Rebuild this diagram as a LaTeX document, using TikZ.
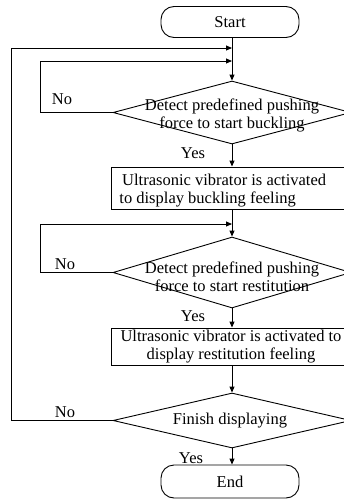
\documentclass[tikz,border=0pt]{standalone}
\usepackage{fontspec}
\setmainfont{Liberation Serif}
\usetikzlibrary{shapes.geometric,arrows.meta}
\begin{document}
\begin{tikzpicture}[x=1pt, y=-1pt, >={Triangle[length=6pt,width=5pt]},
  line width=0.9pt,
  font=\fontsize{16.5}{18}\selectfont,
  term/.style={draw, rounded corners=13pt, minimum width=138pt, minimum height=31pt, inner sep=0pt},
  decision/.style={draw, diamond, inner sep=0pt, minimum width=238pt},
  process/.style={draw, rectangle, minimum width=242pt, inner sep=0pt},
  lbl/.style={inner sep=0pt}]
  \useasboundingbox (0,0) rectangle (344,501);
  \clip (0,0) rectangle (344,501);
  \node[term] (start) at (230,22) {\raisebox{-5pt}{Start}};
  \node[decision, minimum height=63pt] (d1) at (232,112.5) {};
  \node[align=center, lbl] (t1) at (232,115) {Detect predefined pushing\\force to start buckling};
  \node[process, minimum height=42pt] (r1) at (232,188) {};
  \node[align=left, lbl, anchor=west] (t2) at (119,191) {\,Ultrasonic vibrator is activated\\to display buckling feeling};
  \node[decision, minimum height=71pt] (d2) at (232,272.5) {};
  \node[align=center, lbl] (t3) at (232,277) {Detect predefined pushing\\force to start restitution};
  \node[process, minimum height=37pt] (r2) at (232,346.5) {};
  \node[align=center, lbl] (t4) at (231,347) {Ultrasonic vibrator is activated to\\display restitution feeling};
  \node[decision, minimum height=55pt] (d3) at (232,420.5) {};
  \node[lbl] (t5) at (230,421) {Finish displaying};
  \node[term, minimum height=33pt] (end) at (230,481.5) {\raisebox{-5pt}{End}};
  \coordinate (j0) at (232,48);
  \coordinate (j1) at (232,61);
  \coordinate (j2) at (232,224);
  \draw[->] (start.south -| d1.north) -- (d1.north);
  \draw[->] (d1.south) -- (r1.north);
  \draw[->] (r1.south) -- (d2.north);
  \draw[->] (d2.south) -- (r2.north);
  \draw[->] (r2.south) -- (d3.north);
  \draw[->] (d3.south) -- (end.north -| d3.south);
  \draw[->] (d1.west) -- ++(-72,0) |- (j1);
  \draw[->] (d2.west) -- ++(-72,0) |- (j2);
  \draw[->] (d3.west) -- ++(-101,0) |- (j0);
  \node[lbl] (no1) at (62,99) {No};
  \node[lbl] (no2) at (65,264) {No};
  \node[lbl] (no3) at (65,412) {No};
  \node[lbl] (yes1) at (193,153) {Yes};
  \node[lbl] (yes2) at (193,316) {Yes};
  \node[lbl] (yes3) at (191,458) {Yes};
\end{tikzpicture}
\end{document}
